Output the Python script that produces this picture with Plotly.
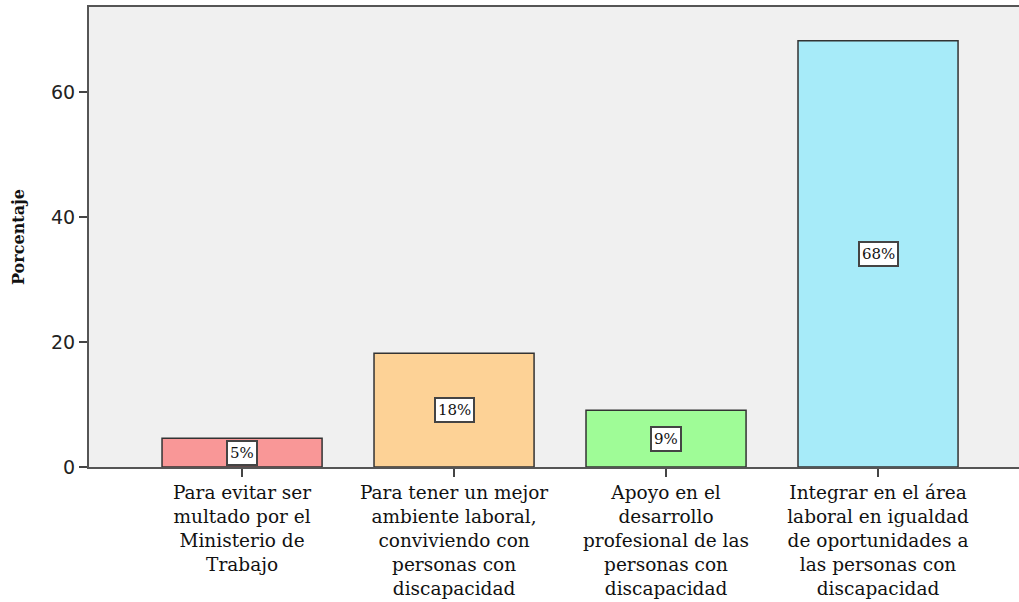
import plotly.graph_objects as go

categories = [
    "Para evitar ser<br>multado por el<br>Ministerio de<br>Trabajo",
    "Para tener un mejor<br>ambiente laboral,<br>conviviendo con<br>personas con<br>discapacidad",
    "Apoyo en el<br>desarrollo<br>profesional de las<br>personas con<br>discapacidad",
    "Integrar en el área<br>laboral en igualdad<br>de oportunidades a<br>las personas con<br>discapacidad",
]
values = [4.6, 18.2, 9.1, 68.2]
labels = ["5%", "18%", "9%", "68%"]
colors = ["#f99797", "#fdd296", "#9ffc97", "#a7ebf9"]

x_idx = list(range(len(categories)))

fig = go.Figure()
fig.add_trace(go.Bar(
    x=x_idx, y=values, width=0.755,
    marker=dict(color=colors, line=dict(color="#333333", width=1.5)),
    hoverinfo="skip",
))

for xi, v, lab in zip(x_idx, values, labels):
    fig.add_annotation(
        x=xi, y=v / 2, text=lab, showarrow=False,
        font=dict(family="DejaVu Serif", size=15, color="#111111"),
        bgcolor="white", bordercolor="#444444", borderwidth=2, borderpad=2,
    )

fig.update_layout(
    width=1019, height=602,
    margin=dict(l=89, r=0, t=7, b=135),
    paper_bgcolor="white", plot_bgcolor="#f0f0f0",
    showlegend=False,
    font=dict(family="DejaVu Serif", color="#111111"),
)
fig.update_xaxes(
    automargin=False,
    range=[-0.722, 3.665],
    tickmode="array", tickvals=x_idx, ticktext=categories,
    tickfont=dict(family="DejaVu Serif", size=18.5, color="#111111"),
    ticks="outside", ticklen=8, tickwidth=2, tickcolor="#444444",
    showline=True, linecolor="#555555", linewidth=2, mirror=True,
    showgrid=False, zeroline=False,
)
fig.update_yaxes(
    automargin=False,
    range=[0, 73.6],
    tickvals=[0, 20, 40, 60],
    tickfont=dict(family="DejaVu Sans", size=19, color="#222222"),
    ticks="outside", ticklen=8, tickwidth=2, tickcolor="#444444",
    showline=True, linecolor="#555555", linewidth=2, mirror=True,
    showgrid=False, zeroline=False,
    title=dict(text="<b>Porcentaje</b>", font=dict(family="DejaVu Serif", size=16, color="#111111"), standoff=22),
)

fig.write_html(
    "out.html",
    config={"displayModeBar": False},
    post_script="document.body.style.margin='0';document.body.style.overflow='hidden';",
)
